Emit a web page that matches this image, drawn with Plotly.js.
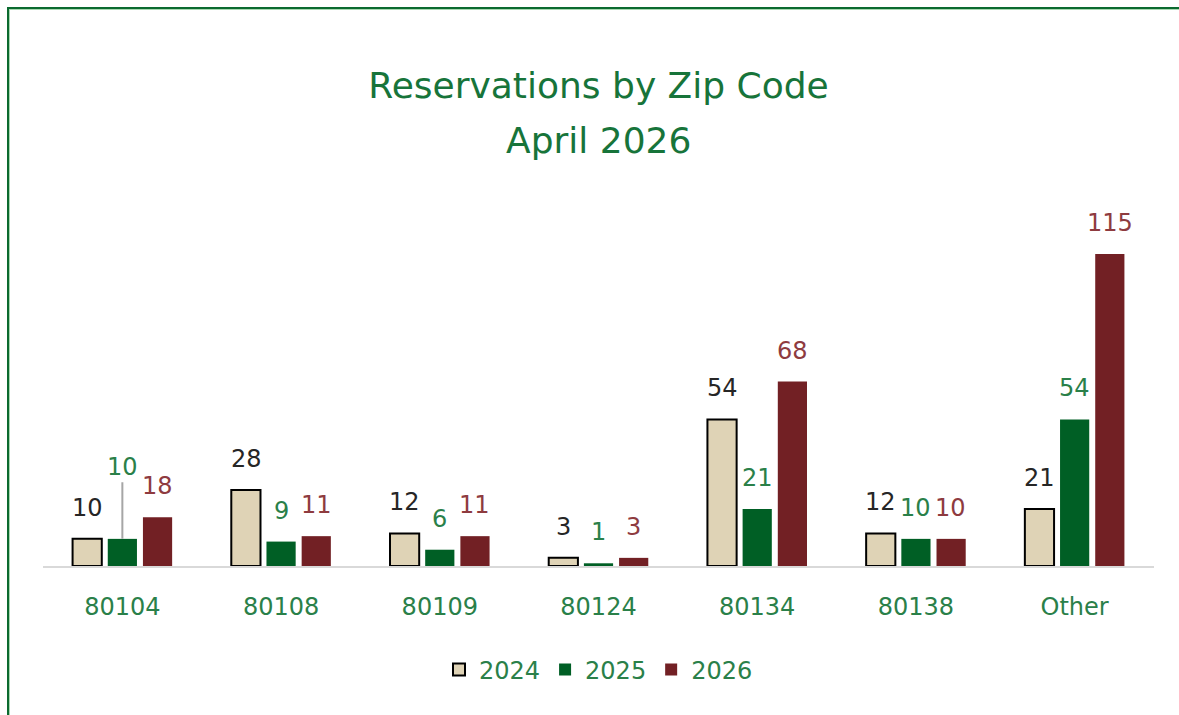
<!DOCTYPE html>
<html>
<head>
<meta charset="utf-8">
<script src="https://cdn.plot.ly/plotly-3.0.1.min.js"></script>
<style>
  html, body { margin: 0; padding: 0; background: #ffffff; }
  #frame { position: absolute; left: 7px; top: 7px; width: 1172px; height: 708px;
           border-top: 2px solid #0B6A2F; border-left: 2px solid #0B6A2F; box-sizing: border-box; }
  #inner { position: absolute; left: 0; top: 0; right: 0; bottom: 0;
           border-top: 1px solid #A9D8B2; border-left: 1px solid #A9D8B2; }
  #chart { position: absolute; left: 0; top: 0; width: 1179px; height: 715px; }
</style>
</head>
<body>
<div id="frame"><div id="inner"></div></div>
<div id="chart"></div>
<script>
const categories = ["80104", "80108", "80109", "80124", "80134", "80138", "Other"];
const seriesNames = ["2024", "2025", "2026"];
const values2024 = [10, 28, 12, 3, 54, 12, 21];
const values2025 = [10, 9, 6, 1, 21, 10, 54];
const values2026 = [18, 11, 11, 3, 68, 10, 115];

const FONT = "DejaVu Sans, Verdana, sans-serif";
const fills = ["#DFD3B6", "#005F25", "#722024"];
const labelColors = ["#262626", "#2A8049", "#8E3B3F"];
const allValues = [values2024, values2025, values2026];

const traces = allValues.map((vals, i) => ({
  type: "bar",
  name: seriesNames[i],
  x: categories,
  y: vals,
  marker: {
    color: fills[i],
    line: { color: i === 0 ? "#000000" : fills[i], width: i === 0 ? 2 : 0 }
  },
  hoverinfo: "x+y+name"
}));

const groupOffsets = [-35, 0, 35];
const annotations = [];
allValues.forEach((vals, i) => {
  vals.forEach((v, j) => {
    const lifted = (i === 1 && j === 0);
    const base = {
      x: j, y: v, xref: "x", yref: "y",
      text: String(v), xshift: groupOffsets[i],
      font: { family: FONT, size: 24, color: labelColors[i] }
    };
    if (lifted) {
      annotations.push(Object.assign(base, {
        showarrow: true, arrowhead: 0, arrowwidth: 2,
        arrowcolor: "#A6A6A6", ax: 0, ay: -72, standoff: 0
      }));
    } else {
      annotations.push(Object.assign(base, {
        showarrow: false, yanchor: "bottom", yshift: 15
      }));
    }
  });
});
annotations.push({
  text: "April 2026", xref: "paper", yref: "paper",
  x: 0.5, y: (715 - 149 - 140) / 366, xanchor: "center", yanchor: "middle",
  showarrow: false,
  font: { family: FONT, size: 36, color: "#17743A" }
});

const layout = {
  width: 1179, height: 715,
  paper_bgcolor: "rgba(0,0,0,0)", plot_bgcolor: "rgba(0,0,0,0)",
  margin: { l: 43, r: 25, t: 200, b: 149 },
  title: {
    text: "Reservations by Zip Code",
    x: 0.5, xanchor: "center", xref: "paper",
    y: 1 - 85 / 715, yanchor: "middle", yref: "container",
    font: { family: FONT, size: 36, color: "#17743A" }
  },
  barmode: "group",
  bargap: 0.335,
  bargroupgap: 0.17,
  xaxis: {
    type: "category",
    showline: true, linecolor: "#D9D9D9", linewidth: 2,
    ticks: "", showgrid: false, zeroline: false,
    ticklabelstandoff: 18,
    tickfont: { family: FONT, size: 24, color: "#2A8049" }
  },
  yaxis: {
    range: [0, 134.9], visible: false, showgrid: false, zeroline: false
  },
  showlegend: true,
  legend: {
    orientation: "h", x: 0.5, xanchor: "center",
    y: -104 / 366, yanchor: "middle",
    font: { family: FONT, size: 24, color: "#2A8049" },
    itemwidth: 30, traceorder: "normal"
  },
  annotations: annotations
};

Plotly.newPlot("chart", traces, layout, { displayModeBar: false, staticPlot: true });
</script>
</body>
</html>
